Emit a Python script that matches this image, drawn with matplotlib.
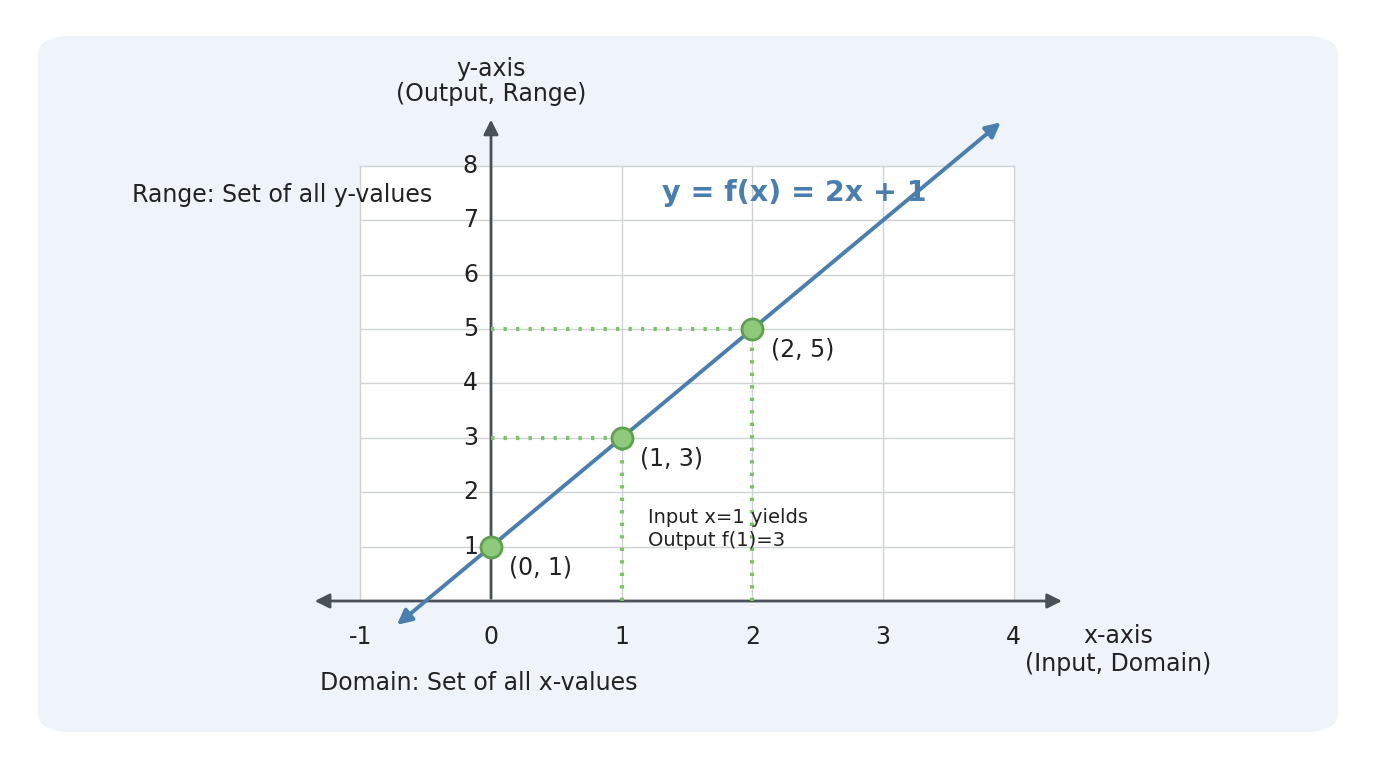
import matplotlib
matplotlib.use("Agg")
import matplotlib.pyplot as plt
from matplotlib.patches import FancyBboxPatch, Rectangle

# data
pts_x = [0, 1, 2]
pts_y = [1, 3, 5]
pt_labels = ["(0, 1)", "(1, 3)", "(2, 5)"]
x_ticks = [-1, 0, 1, 2, 3, 4]
y_ticks = [1, 2, 3, 4, 5, 6, 7, 8]
line_x = [-0.72, 3.9]

BLUE = "#4a7eaf"
GREEN = "#7cc26a"
AXC = "#4a5058"

fig = plt.figure(figsize=(13.76, 7.68), dpi=100)
ax = fig.add_axes([0, 0, 1, 1])
sx, sy = 130.7, 54.4
ax.set_xlim(-491 / sx, (1376 - 491) / sx)
ax.set_ylim((601 - 768) / sy, 601 / sy)
ax.axis("off")

ax.add_patch(FancyBboxPatch((38 / 1376, 1 - 732 / 768), 1300 / 1376, 696 / 768,
                            boxstyle="round,pad=0,rounding_size=0.025",
                            transform=ax.transAxes, fc="#eef4fa", ec="none", zorder=0))
ax.add_patch(Rectangle((-1, 0), 5, 8, fc="white", ec="none", zorder=1))
for x in x_ticks:
    ax.plot([x, x], [0, 8], color="#d0d3d6", lw=1, zorder=2)
for y in y_ticks:
    ax.plot([-1, 4], [y, y], color="#d0d3d6", lw=1, zorder=2)

# axes arrows
ax.annotate("", xy=(4.39, 0), xytext=(-1.37, 0),
            arrowprops=dict(arrowstyle="<|-|>", color=AXC, lw=2, mutation_scale=22), zorder=3)
ax.annotate("", xy=(0, 8.9), xytext=(0, 0),
            arrowprops=dict(arrowstyle="-|>", color=AXC, lw=2, mutation_scale=22), zorder=3)

for x in x_ticks:
    ax.text(x, -0.45, str(x), ha="center", va="top", fontsize=17, color="#222")
for y in y_ticks:
    ax.text(-0.1, y, str(y), ha="right", va="center", fontsize=17, color="#222")

# dotted guides
for px, py in zip(pts_x[1:], pts_y[1:]):
    ax.plot([0, px], [py, py], ls=(0, (0.8, 2.2)), color=GREEN, lw=3, zorder=3)
    ax.plot([px, px], [0, py], ls=(0, (0.8, 2.2)), color=GREEN, lw=3, zorder=3)

# function line
line_y = [2 * x + 1 for x in line_x]
ax.annotate("", xy=(line_x[1], line_y[1]), xytext=(line_x[0], line_y[0]),
            arrowprops=dict(arrowstyle="<|-|>", color=BLUE, lw=2.8, mutation_scale=22,
                            shrinkA=0, shrinkB=0), zorder=4)
ax.scatter(pts_x, pts_y, s=230, color="#8fca7c", edgecolor="#5fa04e", lw=2, zorder=5)
for px, py, lab in zip(pts_x, pts_y, pt_labels):
    ax.text(px + 0.14, py - 0.38, lab, ha="left", va="center", fontsize=17, color="#222")

ax.text(1.31, 7.5, "y = f(x) = 2x + 1", ha="left", va="center", fontsize=20.5,
        fontweight="bold", color=BLUE)
ax.text(1.2, 1.32, "Input x=1 yields\nOutput f(1)=3", ha="left", va="center",
        fontsize=14, color="#222", linespacing=1.3)
ax.text(0, 9.55, "y-axis\n(Output, Range)", ha="center", va="center", fontsize=17,
        color="#222", linespacing=1.1)
ax.text(-2.75, 7.47, "Range: Set of all y-values", ha="left", va="center", fontsize=17, color="#222")
ax.text(-1.31, -1.5, "Domain: Set of all x-values", ha="left", va="center", fontsize=17, color="#222")
ax.text(4.8, -0.9, "x-axis\n(Input, Domain)", ha="center", va="center", fontsize=17,
        color="#222", linespacing=1.2)

fig.savefig("out.png", dpi=100)
